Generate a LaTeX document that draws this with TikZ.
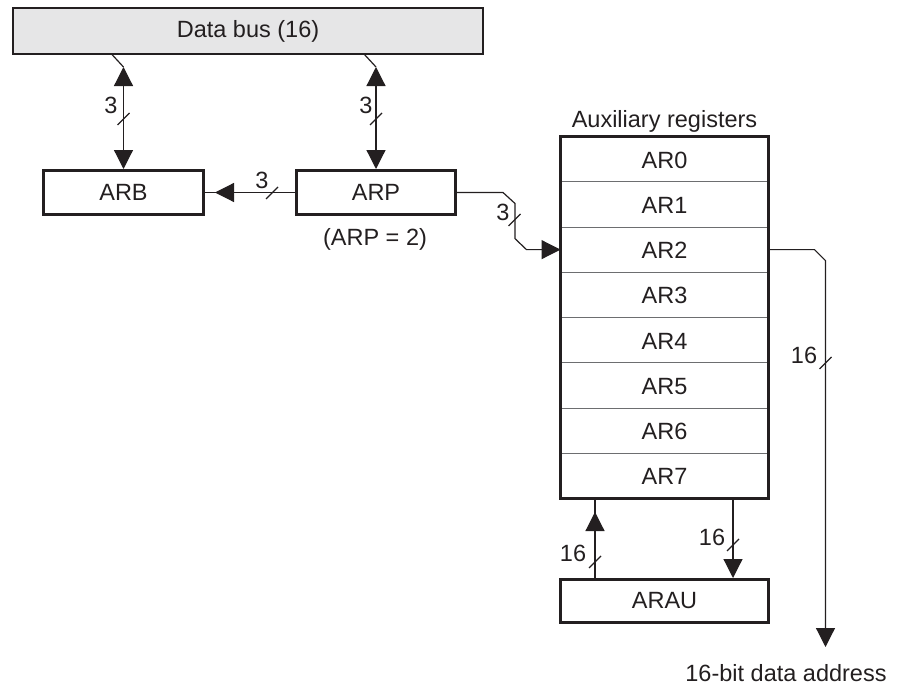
\documentclass[tikz,border=0pt]{standalone}
\usepackage{fontspec}
\setmainfont{Liberation Sans}
\usetikzlibrary{arrows.meta,fit}
\definecolor{ink}{HTML}{231F20}
\definecolor{busfill}{HTML}{E6E6E7}
\definecolor{sepgray}{HTML}{6D6E70}
\begin{document}
\begin{tikzpicture}[x=1pt,y=-1pt,
  font=\fontsize{23.5}{28}\selectfont,
  every node/.style={text=ink},
  busbox/.style={draw=ink, fill=busfill, line width=1.3pt, minimum width=470pt, minimum height=46pt, inner sep=0pt},
  thickbox/.style={draw=ink, line width=3pt, inner sep=0pt},
  regrow/.style={minimum width=208pt, minimum height=45.25pt, inner sep=0pt, outer sep=0pt, text height=18pt, text depth=0pt},
  sepline/.style={draw=sepgray, line width=1pt},
  conn/.style={draw=ink, line width=1.2pt},
  arrowtip/.style={-{Triangle[length=19pt,width=19pt]}},
  dbl/.style={{Triangle[length=19pt,width=19pt]}-{Triangle[length=19pt,width=19pt]}},
  slashmark/.pic={\draw[ink, line width=1.2pt] (-6,6) -- (6,-6);}
]
\useasboundingbox (0,0) rectangle (897,685);

% data bus
\node[busbox] (bus) at (248,31) {Data bus (16)};

% ARB / ARP
\node[thickbox, minimum width=160pt, minimum height=44pt] (arb) at (123.5,192.5) {ARB};
\node[thickbox, minimum width=159pt, minimum height=44pt] (arp) at (376,192.5) {ARP};
\node[anchor=base] (arpval) at (375,245) {(ARP = 2)};

% auxiliary registers
\foreach \i in {0,...,7}
  \node[regrow] (ar\i) at (664.5, 159.125+45.25*\i) {AR\i};
\foreach \i in {0,...,6}
  \draw[sepline] (ar\i.south west) -- (ar\i.south east);
\node[thickbox, fit=(ar0)(ar7)] (aux) {};
\node[anchor=base] (auxlbl) at (664.5,127) {Auxiliary registers};

% ARAU
\node[thickbox, minimum width=208pt, minimum height=43pt] (arau) at (664.5,601) {ARAU};

% bus <-> ARB, ARP
\coordinate (k1) at (123.5,67);
\coordinate (k2) at (376,67);
\draw[conn] (k1) -- ++(-12,-13);
\draw[conn, dbl] (k1) -- (arb.north);
\draw[conn] (k2) -- ++(-12,-13);
\draw[conn, dbl] (k2) -- (arp.north);
\node (l1) at (111,105) {3};
\node (l2) at (366,105) {3};
\pic at (123.5,119) {slashmark};
\pic at (376,119) {slashmark};

% ARP -> ARB
\draw[conn] (arp.west) -- (arb.east);
\draw[conn, arrowtip] (arp.west) -- ([xshift=10pt]arb.east);
\node (l3) at (262,180) {3};
\pic at (272,193) {slashmark};

% ARP -> AR2
\draw[conn, arrowtip] (arp.east) -- ++(46,0) -- ++(12,11)
  -- ([xshift=-45.5pt,yshift=11pt]ar2.west) -- ([xshift=-34pt]ar2.west) -- (ar2.west);
\node (l4) at (503,212) {3};
\pic at (514.5,220) {slashmark};

% AR2 -> data address
\coordinate (out) at (825.5,647);
\draw[conn, arrowtip] (ar2.east) -- ++(46,0) -- ++(11,11) -- (out);
\node (l5) at (804,355) {16};
\pic at (825.5,363) {slashmark};
\node[anchor=base] (addr) at (786,681) {16-bit data address};

% ARAU <-> registers
\draw[conn] ([xshift=-69.5pt]arau.north) -- ([xshift=-69.5pt]aux.south);
\draw[conn, arrowtip] ([xshift=-69.5pt]arau.north) -- ([xshift=-69.5pt,yshift=-12pt]aux.south);
\node (l6) at (573,553) {16};
\pic at (595,562) {slashmark};
\draw[conn, arrowtip] ([xshift=68.5pt]aux.south) -- ([xshift=68.5pt]arau.north);
\node (l7) at (712,537) {16};
\pic at (733,545) {slashmark};
\end{tikzpicture}
\end{document}
